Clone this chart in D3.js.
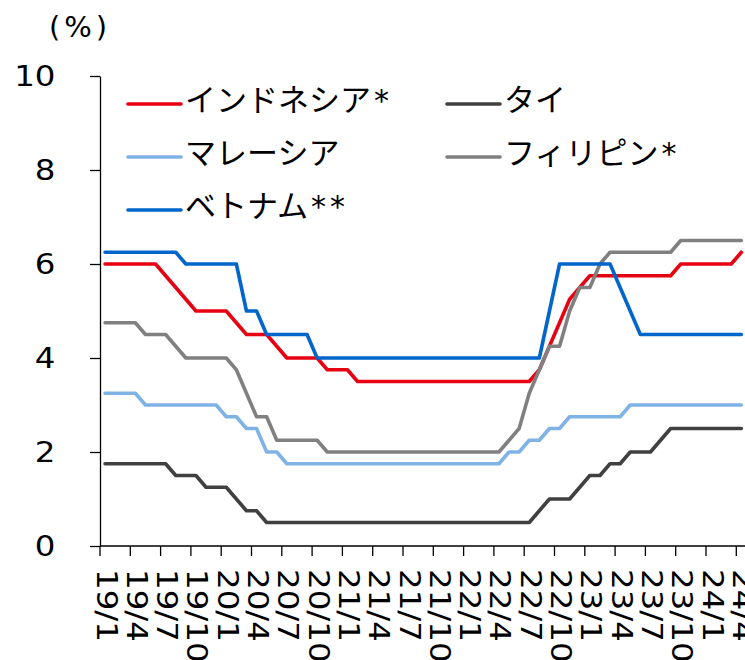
<!DOCTYPE html>
<html>
<head>
<meta charset="utf-8">
<script src="https://cdn.jsdelivr.net/npm/d3@7"></script>
<style>
  html, body { margin: 0; padding: 0; background: #fff; }
  svg { display: block; }
</style>
</head>
<body>
<div id="chart"></div>
<script>
// ---- data ----
const months = [
  "19/1","19/2","19/3","19/4","19/5","19/6","19/7","19/8","19/9","19/10","19/11","19/12",
  "20/1","20/2","20/3","20/4","20/5","20/6","20/7","20/8","20/9","20/10","20/11","20/12",
  "21/1","21/2","21/3","21/4","21/5","21/6","21/7","21/8","21/9","21/10","21/11","21/12",
  "22/1","22/2","22/3","22/4","22/5","22/6","22/7","22/8","22/9","22/10","22/11","22/12",
  "23/1","23/2","23/3","23/4","23/5","23/6","23/7","23/8","23/9","23/10","23/11","23/12",
  "24/1","24/2","24/3","24/4"
];
const tickLabels = ["19/1","19/4","19/7","19/10","20/1","20/4","20/7","20/10","21/1","21/4","21/7","21/10",
  "22/1","22/4","22/7","22/10","23/1","23/4","23/7","23/10","24/1","24/4"];
const yTicks = [0, 2, 4, 6, 8, 10];

const indonesia = [
  6,6,6,6,6,6,5.75,5.5,5.25,5,5,5,
  5,4.75,4.5,4.5,4.5,4.25,4,4,4,4,3.75,3.75,
  3.75,3.5,3.5,3.5,3.5,3.5,3.5,3.5,3.5,3.5,3.5,3.5,
  3.5,3.5,3.5,3.5,3.5,3.5,3.5,3.75,4.25,4.75,5.25,5.5,
  5.75,5.75,5.75,5.75,5.75,5.75,5.75,5.75,5.75,6,6,6,
  6,6,6,6.25
];
const thailand = [
  1.75,1.75,1.75,1.75,1.75,1.75,1.75,1.5,1.5,1.5,1.25,1.25,
  1.25,1,0.75,0.75,0.5,0.5,0.5,0.5,0.5,0.5,0.5,0.5,
  0.5,0.5,0.5,0.5,0.5,0.5,0.5,0.5,0.5,0.5,0.5,0.5,
  0.5,0.5,0.5,0.5,0.5,0.5,0.5,0.75,1,1,1,1.25,
  1.5,1.5,1.75,1.75,2,2,2,2.25,2.5,2.5,2.5,2.5,
  2.5,2.5,2.5,2.5
];
const malaysia = [
  3.25,3.25,3.25,3.25,3,3,3,3,3,3,3,3,
  2.75,2.75,2.5,2.5,2,2,1.75,1.75,1.75,1.75,1.75,1.75,
  1.75,1.75,1.75,1.75,1.75,1.75,1.75,1.75,1.75,1.75,1.75,1.75,
  1.75,1.75,1.75,1.75,2,2,2.25,2.25,2.5,2.5,2.75,2.75,
  2.75,2.75,2.75,2.75,3,3,3,3,3,3,3,3,
  3,3,3,3
];
const philippines = [
  4.75,4.75,4.75,4.75,4.5,4.5,4.5,4.25,4,4,4,4,
  4,3.75,3.25,2.75,2.75,2.25,2.25,2.25,2.25,2.25,2,2,
  2,2,2,2,2,2,2,2,2,2,2,2,
  2,2,2,2,2.25,2.5,3.25,3.75,4.25,4.25,5,5.5,
  5.5,6,6.25,6.25,6.25,6.25,6.25,6.25,6.25,6.5,6.5,6.5,
  6.5,6.5,6.5,6.5
];
const vietnam = [
  6.25,6.25,6.25,6.25,6.25,6.25,6.25,6.25,6,6,6,6,
  6,6,5,5,4.5,4.5,4.5,4.5,4.5,4,4,4,
  4,4,4,4,4,4,4,4,4,4,4,4,
  4,4,4,4,4,4,4,4,5,6,6,6,
  6,6,6,5.5,5,4.5,4.5,4.5,4.5,4.5,4.5,4.5,
  4.5,4.5,4.5,4.5
];
const seriesNames = ["インドネシア", "タイ", "マレーシア", "フィリピン", "ベトナム"];
const seriesMarks = ["*", "", "", "*", "**"];
const seriesValues = [indonesia, thailand, malaysia, philippines, vietnam];
const seriesColors = ["#E60012", "#404040", "#7FB2E5", "#808080", "#0066CC"];

// ---- layout ----
const W = 745, H = 660;
const plot = { left: 100, right: 746.4, top: 76, bottom: 546 };
const numFont = "'DejaVu Sans', Verdana, sans-serif";
const jpFont = "'Noto Sans CJK JP', 'Noto Sans', sans-serif";

const svg = d3.select("#chart").append("svg")
  .attr("width", W).attr("height", H)
  .attr("viewBox", `0 0 ${W} ${H}`);
svg.append("rect").attr("width", W).attr("height", H).attr("fill", "#fff");

const x = d3.scaleBand().domain(months).range([plot.left, plot.right]).padding(0);
const xc = m => x(m) + x.bandwidth() / 2;
const y = d3.scaleLinear().domain([0, 10]).range([plot.bottom, plot.top]);

// ---- lines ----
const line = d3.line().x((d, i) => xc(months[i])).y(d => y(d));
seriesValues.forEach((vals, k) => {
  svg.append("path")
    .datum(vals)
    .attr("d", line)
    .attr("fill", "none")
    .attr("stroke", seriesColors[k])
    .attr("stroke-width", 3.6)
    .attr("stroke-linejoin", "round")
    .attr("stroke-linecap", "round");
});

// ---- y axis ----
const yAxis = svg.append("g").attr("transform", `translate(${plot.left},0)`)
  .call(d3.axisLeft(y).tickValues(yTicks).tickSize(10).tickSizeOuter(0).tickFormat(""));
yAxis.select(".domain").attr("stroke", "#000").attr("stroke-width", 1.3);
yAxis.selectAll(".tick line").attr("stroke", "#000").attr("stroke-width", 1.3);

svg.append("g").selectAll("text").data(yTicks).join("text")
  .attr("transform", d => `translate(55.5,${y(d) + 10}) scale(1.12,1)`)
  .attr("text-anchor", "end")
  .attr("font-family", numFont)
  .attr("font-size", 29)
  .attr("fill", "#000")
  .text(d => d);

// ---- x axis ----
const tickIdx = d3.range(0, months.length + 1, 3);
const xAxisG = svg.append("g");
xAxisG.append("line")
  .attr("x1", plot.left).attr("x2", plot.right)
  .attr("y1", plot.bottom).attr("y2", plot.bottom)
  .attr("stroke", "#000").attr("stroke-width", 1.3);
xAxisG.selectAll("line.tk").data(tickIdx).join("line")
  .attr("class", "tk")
  .attr("x1", i => plot.left + i * x.bandwidth())
  .attr("x2", i => plot.left + i * x.bandwidth())
  .attr("y1", plot.bottom).attr("y2", plot.bottom + 10)
  .attr("stroke", "#000").attr("stroke-width", 1.3);

xAxisG.selectAll("text").data(tickLabels).join("text")
  .attr("transform", d => `translate(${xc(d) - 8.5},569) rotate(90) scale(1.12,1)`)
  .attr("text-anchor", "start")
  .attr("font-family", numFont)
  .attr("font-size", 29)
  .attr("fill", "#000")
  .text(d => d);

// ---- unit label ----
svg.append("text")
  .attr("x", 49).attr("y", 37)
  .attr("text-anchor", "start")
  .attr("font-family", numFont)
  .attr("font-size", 29)
  .attr("letter-spacing", 4)
  .attr("fill", "#000")
  .text("(%)");

// ---- legend ----
const legendPos = [
  { lx: 128, ly: 104 }, { lx: 447, ly: 104 },
  { lx: 128, ly: 157 }, { lx: 447, ly: 157 },
  { lx: 128, ly: 210 }
];
seriesNames.forEach((name, k) => {
  const p = legendPos[k];
  const g = svg.append("g");
  g.append("line")
    .attr("x1", p.lx).attr("x2", p.lx + 53)
    .attr("y1", p.ly).attr("y2", p.ly)
    .attr("stroke", seriesColors[k])
    .attr("stroke-width", 3.6)
    .attr("stroke-linecap", "round");
  const t = g.append("text")
    .attr("x", p.lx + 57).attr("y", p.ly + 7)
    .attr("font-family", jpFont)
    .attr("font-size", 31)
    .attr("fill", "#000");
  t.append("tspan").text(name);
  if (seriesMarks[k]) {
    t.append("tspan")
      .attr("font-family", numFont)
      .attr("font-size", 30)
      .attr("dx", 3)
      .attr("letter-spacing", 4)
      .text(seriesMarks[k]);
  }
});
</script>
</body>
</html>
